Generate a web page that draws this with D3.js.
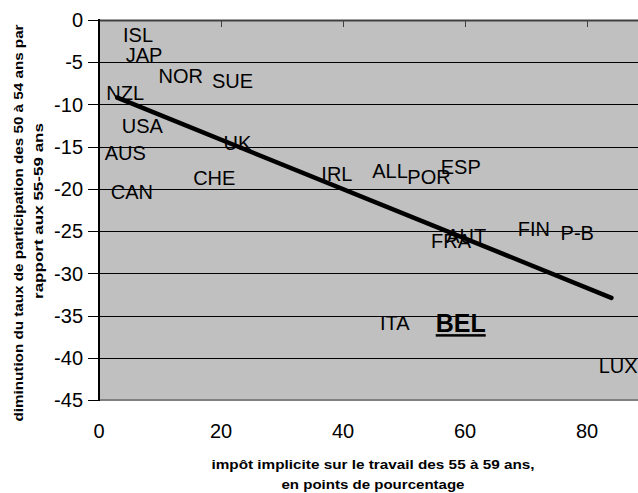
<!DOCTYPE html>
<html>
<head>
<meta charset="utf-8">
<script src="https://cdn.jsdelivr.net/npm/d3@7"></script>
<style>
  html, body { margin: 0; padding: 0; background: #fff; }
  svg { display: block; font-family: "Liberation Sans", Arial, sans-serif; }
</style>
</head>
<body>
<svg id="chart" width="638" height="493"></svg>
<script>
// ---- data ----
const countries = ["ISL","JAP","NOR","SUE","NZL","USA","AUS","CAN","CHE","UK","IRL","ALL","POR","ESP","FRA","AUT","FIN","P-B","LUX","ITA","BEL"];
const implicitTax = [6.4, 7.4, 13.4, 21.9, 4.3, 7.1, 4.3, 5.4, 18.9, 22.7, 39.0, 47.7, 54.1, 59.3, 57.7, 60.2, 71.3, 78.4, 85.1, 48.5, 59.3];
const participationDrop = [-1.7, -4.15, -6.6, -7.2, -8.6, -12.5, -15.7, -20.4, -18.7, -14.6, -18.2, -17.9, -18.6, -17.4, -26.1, -25.6, -24.7, -25.2, -40.9, -35.8, -35.9];
const highlighted = ["BEL"];
const trendX = [3, 84];
const trendY = [-9.2, -32.9];
const xTicks = [0, 20, 40, 60, 80];
const yTicks = [0, -5, -10, -15, -20, -25, -30, -35, -40, -45];
const xTitle = ["impôt implicite sur le travail des 55 à 59 ans,", "en points de pourcentage"];
const yTitle = ["diminution du taux de participation des 50 à 54 ans par", "rapport aux 55-59 ans"];

// ---- layout ----
const svg = d3.select("#chart");
const pLeft = 99, pTop = 20, pBottom = 400;
const x = d3.scaleLinear().domain([0, 100]).range([pLeft, 709]);
const y = d3.scaleLinear().domain([0, -45]).range([pTop, pBottom]);

// plot background
svg.append("rect")
  .attr("x", pLeft).attr("y", pTop)
  .attr("width", x(100) - pLeft).attr("height", pBottom - pTop)
  .attr("fill", "#c0c0c0");

// gridlines
svg.append("g").selectAll("line")
  .data(yTicks.filter(d => d !== 0 && d !== -45))
  .join("line")
  .attr("x1", pLeft).attr("x2", x(100))
  .attr("y1", d => Math.round(y(d)) + 0.5).attr("y2", d => Math.round(y(d)) + 0.5)
  .attr("stroke", "#000").attr("stroke-width", 1);

// bottom border
svg.append("line")
  .attr("x1", pLeft).attr("x2", x(100))
  .attr("y1", pBottom).attr("y2", pBottom)
  .attr("stroke", "#808080").attr("stroke-width", 2);

// top x axis line (crosses at 0) with inward ticks
svg.append("line")
  .attr("x1", pLeft).attr("x2", x(100))
  .attr("y1", pTop + 0.5).attr("y2", pTop + 0.5)
  .attr("stroke", "#404040").attr("stroke-width", 2);
svg.append("g").selectAll("line")
  .data(xTicks)
  .join("line")
  .attr("x1", d => Math.round(x(d)) + 0.5).attr("x2", d => Math.round(x(d)) + 0.5)
  .attr("y1", pTop).attr("y2", pTop + 7)
  .attr("stroke", "#404040").attr("stroke-width", 1);

// left y axis
svg.append("line")
  .attr("x1", pLeft).attr("x2", pLeft)
  .attr("y1", pTop - 1).attr("y2", pBottom + 1)
  .attr("stroke", "#000").attr("stroke-width", 2);
svg.append("g").selectAll("line")
  .data(yTicks)
  .join("line")
  .attr("x1", pLeft - 11).attr("x2", pLeft)
  .attr("y1", d => Math.round(y(d)) + 0.5).attr("y2", d => Math.round(y(d)) + 0.5)
  .attr("stroke", "#000").attr("stroke-width", 1);

// y tick labels
svg.append("g").selectAll("text")
  .data(yTicks)
  .join("text")
  .attr("x", 83).attr("y", d => y(d)).attr("dy", "0.36em")
  .attr("text-anchor", "end")
  .attr("font-size", 20)
  .attr("fill", "#000")
  .text(d => d);

// x tick labels
svg.append("g").selectAll("text")
  .data(xTicks)
  .join("text")
  .attr("x", d => x(d)).attr("y", 438)
  .attr("text-anchor", "middle")
  .attr("font-size", 20)
  .attr("fill", "#000")
  .text(d => d);

// trend line
svg.append("line")
  .attr("x1", x(trendX[0])).attr("y1", y(trendY[0]))
  .attr("x2", x(trendX[1])).attr("y2", y(trendY[1]))
  .attr("stroke", "#000").attr("stroke-width", 4.5)
  .attr("stroke-linecap", "round");

// country labels
const pts = countries.map((c, i) => ({ c, tx: implicitTax[i], dr: participationDrop[i] }));
svg.append("g").selectAll("text")
  .data(pts)
  .join("text")
  .attr("x", d => x(d.tx)).attr("y", d => y(d.dr)).attr("dy", "0.36em")
  .attr("text-anchor", "middle")
  .attr("font-size", d => highlighted.includes(d.c) ? 25 : 20)
  .attr("font-weight", d => highlighted.includes(d.c) ? "bold" : "normal")
  .attr("text-decoration", d => highlighted.includes(d.c) ? "underline" : null)
  .attr("fill", "#000")
  .text(d => d.c);

// axis titles
const xTitleLen = [323, 183];
svg.append("g").selectAll("text")
  .data(xTitle)
  .join("text")
  .attr("x", 373).attr("y", (d, i) => 469 + i * 20)
  .attr("text-anchor", "middle")
  .attr("font-size", 13.5).attr("font-weight", "bold")
  .attr("textLength", (d, i) => xTitleLen[i])
  .attr("lengthAdjust", "spacingAndGlyphs")
  .text(d => d);

const yCenters = [223, 211];
const yBase = [23, 43];
const yTitleLen = [397, 176];
svg.append("g").selectAll("text")
  .data(yTitle)
  .join("text")
  .attr("transform", (d, i) => `translate(${yBase[i]},${yCenters[i]}) rotate(-90)`)
  .attr("text-anchor", "middle")
  .attr("font-size", 13.5).attr("font-weight", "bold")
  .attr("textLength", (d, i) => yTitleLen[i])
  .attr("lengthAdjust", "spacingAndGlyphs")
  .text(d => d);
</script>
</body>
</html>
